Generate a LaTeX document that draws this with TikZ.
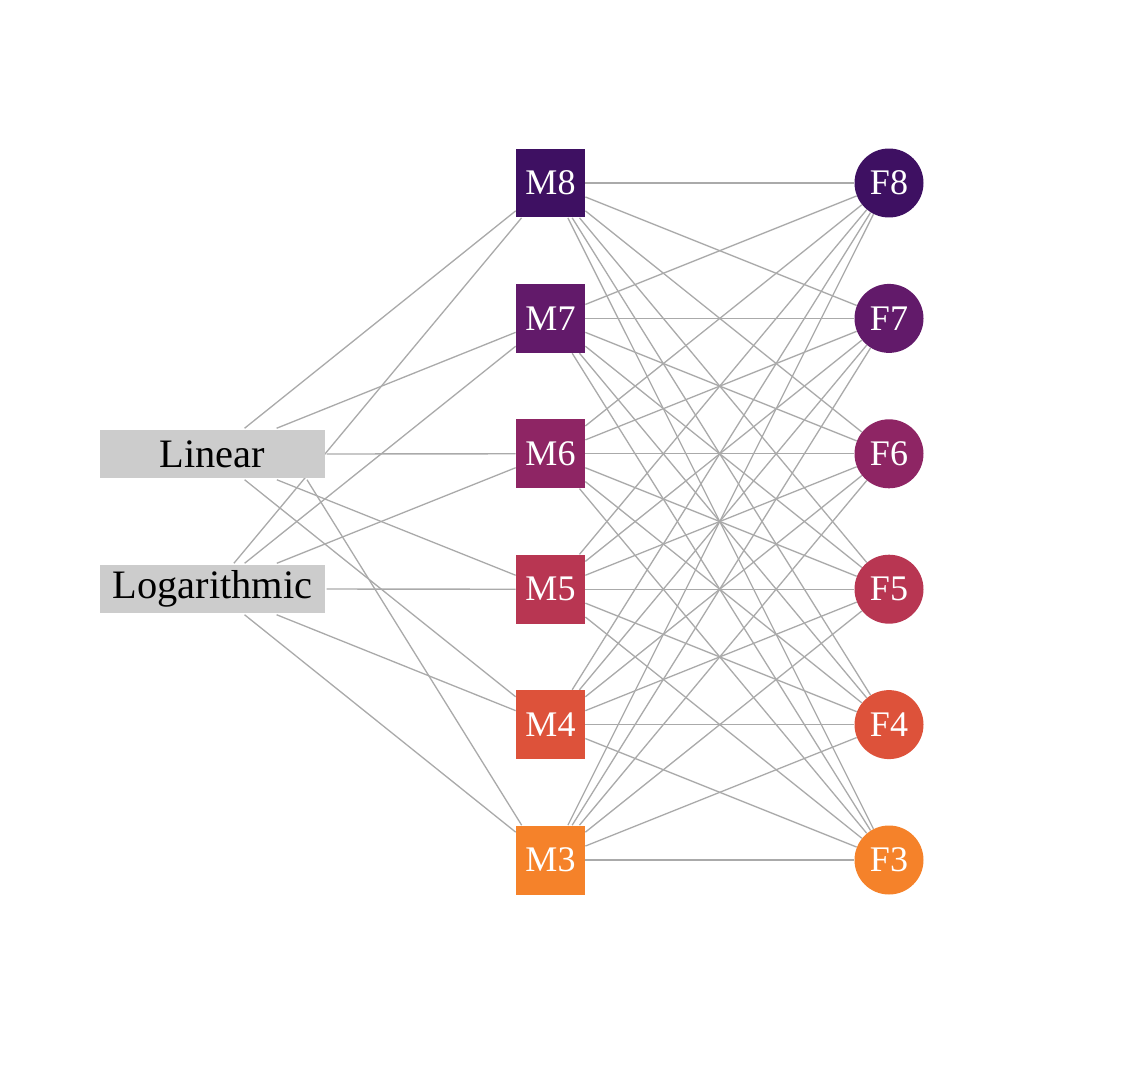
\documentclass[tikz,border=0pt]{standalone}
\usepackage{fontspec}
\setmainfont{Liberation Serif}
\usetikzlibrary{backgrounds}

\definecolor{linkgray}{RGB}{170,170,170}
\definecolor{boxgray}{RGB}{204,204,204}
\definecolor{lev8}{RGB}{62,16,98}
\definecolor{lev7}{RGB}{98,26,106}
\definecolor{lev6}{RGB}{142,37,100}
\definecolor{lev5}{RGB}{184,54,82}
\definecolor{lev4}{RGB}{221,82,58}
\definecolor{lev3}{RGB}{245,130,42}

\begin{document}
\begin{tikzpicture}[x=0.02cm, y=-0.02cm,
    scalebox/.style={fill=boxgray, minimum width=4.5cm, minimum height=0.96cm,
        inner sep=0pt, outer sep=1pt, font=\fontsize{23}{26}\selectfont},
    modelbox/.style={rectangle, minimum size=1.38cm, inner sep=0pt,
        text=white, font=\fontsize{20.5}{24}\selectfont},
    fitdot/.style={circle, minimum size=1.38cm, inner sep=0pt,
        text=white, font=\fontsize{20.5}{24}\selectfont},
    link/.style={draw=linkgray, line width=0.75pt}]
    \useasboundingbox (0,0) rectangle (1145,1081);

    % Scales on the left
    \node[scalebox] (lin) at (212.5,454) {Linear};
    \node[scalebox] (log) at (212.5,589) {Logarithmic};

    % Models and fits, one row per level
    \foreach \i in {8,...,3} {
        \node[modelbox, fill=lev\i] (m\i) at (550.5,{183+(8-\i)*135.4}) {M\i};
        \node[fitdot, fill=lev\i] (f\i) at (889,{183+(8-\i)*135.4}) {F\i};
    }

    % Connections behind the nodes
    \begin{scope}[on background layer]
        \foreach \i in {4,...,8}
            \draw[link] (lin) -- (m\i);
        \foreach \i in {3,...,8}
            \draw[link] (log) -- (m\i);
        % Linear to M3 leaves the box further right
        \draw[link] ([xshift=1.89cm]lin.south) -- ([xshift=0.12cm]m3.north west);
        \foreach \i in {3,...,8}
            \foreach \j in {3,...,8}
                \draw[link] (m\i) -- (f\j);
    \end{scope}
\end{tikzpicture}
\end{document}
